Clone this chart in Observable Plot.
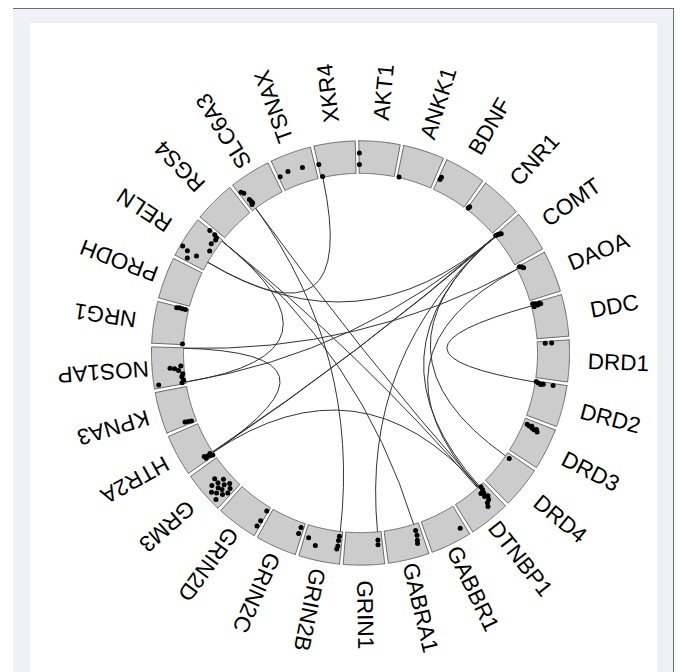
<!DOCTYPE html>
<html><head><meta charset="utf-8">
<script src="https://cdn.jsdelivr.net/npm/d3@7"></script>
<script src="https://cdn.jsdelivr.net/npm/@observablehq/plot@0.6"></script>
<style>
html,body{margin:0;padding:0;background:#fff;overflow:hidden;}
#frame{position:absolute;left:13px;top:8px;width:660px;height:700px;background:#f0f1f7;border-top:1px solid #6e6e6e;border-right:1px solid #6e6e6e;}
#panel{position:absolute;left:17px;top:14px;width:627px;height:690px;background:#fff;}
</style></head><body>
<div id="frame"><div id="panel"></div></div>
<script>
// Sectors (genes), clockwise from the top
const genes = ["AKT1","ANKK1","BDNF","CNR1","COMT","DAOA","DDC","DRD1","DRD2","DRD3","DRD4","DTNBP1","GABBR1","GABRA1","GRIN1","GRIN2B","GRIN2C","GRIN2D","GRM3","HTR2A","KPNA3","NOS1AP","NRG1","PRODH","RELN","RGS4","SLC6A3","TSNAX","XKR4"];

// Points in the track: [gene, position within sector 0-1, value within track 0-1]
const points = [
  ["AKT1",0.01,0.63],["AKT1",0.01,0.27],
  ["ANKK1",0.05,0.02],
  ["BDNF",0.05,0.36],["BDNF",0.06,0.44],
  ["CNR1",0.02,0.06],["CNR1",0.03,0.12],
  ["COMT",0.02,0.03],["COMT",0.04,0.1],["COMT",0.06,0.16],["COMT",0.08,0.2],
  ["DAOA",0.02,0.1],["DAOA",0.06,0.16],["DAOA",0.1,0.2],
  ["DDC",0.02,0.06],["DDC",0.04,0.14],["DDC",0.07,0.1],["DDC",0.09,0.2],["DDC",0.05,0.26],["DDC",0.11,0.08],["DDC",0.08,0.3],
  ["DRD1",0.05,0.25],["DRD1",0.05,0.45],
  ["DRD2",0.02,0.03],["DRD2",0.05,0.1],["DRD2",0.08,0.18],["DRD2",0.06,0.26],["DRD2",0.05,0.57],
  ["DRD3",0.14,0.12],["DRD3",0.16,0.2],["DRD3",0.18,0.3],["DRD3",0.2,0.38],["DRD3",0.17,0.45],["DRD3",0.22,0.5],["DRD3",0.14,0.28],
  ["DRD4",0.11,0.14],
  ["DTNBP1",0.13,0.05],["DTNBP1",0.15,0.15],["DTNBP1",0.18,0.25],["DTNBP1",0.23,0.35],["DTNBP1",0.2,0.5],["DTNBP1",0.28,0.55],["DTNBP1",0.33,0.65],["DTNBP1",0.25,0.2],["DTNBP1",0.15,0.4],
  ["GABBR1",0.13,0.7],
  ["GABRA1",0.14,0.2],["GABRA1",0.14,0.35],["GABRA1",0.17,0.5],["GABRA1",0.19,0.6],
  ["GRIN1",0.11,0.25],["GRIN1",0.12,0.4],
  ["GRIN2B",0.08,0.15],["GRIN2B",0.09,0.28],["GRIN2B",0.09,0.45],["GRIN2B",0.11,0.55],["GRIN2B",0.67,0.56],["GRIN2B",0.89,0.38],
  ["GRIN2C",0.08,0.15],["GRIN2C",0.09,0.35],
  ["GRIN2D",0.04,0.15],["GRIN2D",0.05,0.5],["GRIN2D",0.06,0.7],
  ["GRM3",0.08,0.45],["GRM3",0.12,0.3],["GRM3",0.15,0.6],["GRM3",0.18,0.85],["GRM3",0.22,0.2],["GRM3",0.25,0.5],["GRM3",0.28,0.7],["GRM3",0.3,0.35],["GRM3",0.35,0.55],["GRM3",0.38,0.8],["GRM3",0.42,0.25],["GRM3",0.45,0.45],["GRM3",0.5,0.65],["GRM3",0.58,0.45],
  ["HTR2A",0.03,0.05],["HTR2A",0.06,0.12],["HTR2A",0.09,0.2],["HTR2A",0.11,0.1],["HTR2A",0.13,0.3],["HTR2A",0.06,0.28],
  ["KPNA3",0.05,0.15],["KPNA3",0.07,0.25],["KPNA3",0.09,0.35],
  ["NOS1AP",0.46,0.44],["NOS1AP",0.44,0.3],["NOS1AP",0.38,0.18],["NOS1AP",0.5,0.1],["NOS1AP",0.28,0.06],["NOS1AP",0.2,0.1],["NOS1AP",0.08,0.85],["NOS1AP",0.04,0.12],["NOS1AP",0.1,0.06],
  ["NRG1",0.97,0.1],["NRG1",0.97,0.2],["NRG1",0.98,0.3],["NRG1",0.96,0.38],["NRG1",0.02,0.04],
  ["RELN",0.98,0.5],["RELN",0.98,0.3],["RELN",0.94,0.2],["RELN",0.88,0.18],["RELN",0.73,0.22],["RELN",0.54,0.13],["RELN",0.24,0.4],["RELN",0.24,0.73],["RELN",0.08,0.62],["RELN",0.28,0.93],
  ["SLC6A3",0.06,0.67],["SLC6A3",0.1,0.59],["SLC6A3",0.12,0.33],["SLC6A3",0.13,0.26],["SLC6A3",0.14,0.19],["SLC6A3",0.1,0.16],
  ["TSNAX",0.04,0.45],["TSNAX",0.28,0.5],["TSNAX",0.67,0.46],
  ["XKR4",0.02,0.42],["XKR4",0.05,0.03]
];

// Links between sectors: [gene A, position A, gene B, position B]
const links = [
  ["XKR4",0.05,"RELN",0.25],
  ["RELN",0.25,"COMT",0.03],
  ["RELN",0.97,"NOS1AP",0.04],
  ["NOS1AP",0.99,"HTR2A",0.09],
  ["NOS1AP",0.99,"DAOA",0.05],
  ["NOS1AP",0.04,"COMT",0.03],
  ["HTR2A",0.09,"COMT",0.03],
  ["HTR2A",0.11,"COMT",0.05],
  ["HTR2A",0.09,"DTNBP1",0.18],
  ["DDC",0.07,"DRD2",0.04],
  ["COMT",0.03,"DRD4",0.11],
  ["COMT",0.03,"DTNBP1",0.15],
  ["COMT",0.03,"GRIN1",0.1],
  ["SLC6A3",0.12,"DTNBP1",0.18],
  ["RELN",0.97,"DTNBP1",0.22],
  ["RELN",0.97,"GABRA1",0.14],
  ["SLC6A3",0.12,"GRIN2B",0.07],
  ["DAOA",0.05,"DTNBP1",0.2]
];

const W = 627, H = 649;
const KY = 1.015; // the figure is slightly taller than wide
const XD = [-330, 297], YD = [-329.5 / KY, (H - 329.5) / KY];
const STEP = 360 / genes.length, GAP = 1, SPAN = STEP - GAP, OFFSET = -0.45;
const R_IN = 177, R_OUT = 209, R_LAB = 258;
const rad = d => d * Math.PI / 180;
const start = i => i * STEP + OFFSET;
const ang = (g, p) => start(genes.indexOf(g)) + p * SPAN;
const px = (deg, r) => r * Math.sin(rad(deg));
const py = (deg, r) => -r * Math.cos(rad(deg));

// sector outlines
const sectorRows = [];
genes.forEach((g, i) => {
  const a0 = start(i), a1 = a0 + SPAN, n = 40;
  const pts = [];
  for (let k = 0; k <= n; k++) pts.push([a0 + (a1 - a0) * k / n, R_OUT]);
  for (let k = n; k >= 0; k--) pts.push([a0 + (a1 - a0) * k / n, R_IN]);
  pts.push([a0, R_OUT]);
  pts.forEach(([a, r]) => sectorRows.push({g, x: px(a, r), y: py(a, r)}));
});

const dotRows = points.map(([g, p, v]) => {
  const a = ang(g, p), r = R_IN + v * (R_OUT - R_IN);
  return {x: px(a, r), y: py(a, r)};
});

const linkRows = links.map(([g1, p1, g2, p2]) => {
  const a1 = ang(g1, p1), a2 = ang(g2, p2);
  return {x1: px(a1, R_IN), y1: py(a1, R_IN), x2: px(a2, R_IN), y2: py(a2, R_IN)};
});

const labelRows = genes.map((g, i) => {
  const a = start(i) + SPAN / 2;
  return {g, x: px(a, R_LAB), y: py(a, R_LAB), rot: a - 90};
});

const sx = Plot.scale({x: {domain: XD, range: [0, W]}});
const sy = Plot.scale({y: {domain: YD, range: [0, H]}});
const CX = sx.apply(0), CY = sy.apply(0);

// quadratic link bent through the circle centre
function centerCurve(context) {
  let pts = [];
  return {
    areaStart() {}, areaEnd() {},
    lineStart() { pts = []; },
    point(x, y) { pts.push([+x, +y]); },
    lineEnd() {
      if (pts.length < 2) return;
      const a = pts[0], b = pts[pts.length - 1];
      context.moveTo(a[0], a[1]);
      context.quadraticCurveTo(CX, CY, b[0], b[1]);
    }
  };
}

const chart = Plot.plot({
  width: W, height: H, margin: 0,
  style: {background: "#fff", overflow: "visible"},
  x: {domain: XD, range: [0, W], axis: null},
  y: {domain: YD, range: [0, H], axis: null},
  marks: [
    Plot.line(sectorRows, {x: "x", y: "y", z: "g", fill: "#cccccc", stroke: "#5f5f5f", strokeWidth: 0.9, curve: "linear"}),
    Plot.link(linkRows, {x1: "x1", y1: "y1", x2: "x2", y2: "y2", stroke: "#333", strokeWidth: 1, curve: centerCurve}),
    Plot.dot(dotRows, {x: "x", y: "y", r: 2.5, fill: "#000", stroke: "none"}),
    Plot.text(labelRows, {x: "x", y: "y", text: "g", rotate: "rot", textAnchor: "middle", fontSize: 22.5, fontFamily: "Liberation Sans, Arial, sans-serif", fill: "#000"})
  ]
});
document.getElementById("panel").appendChild(chart);
</script>
</body></html>
